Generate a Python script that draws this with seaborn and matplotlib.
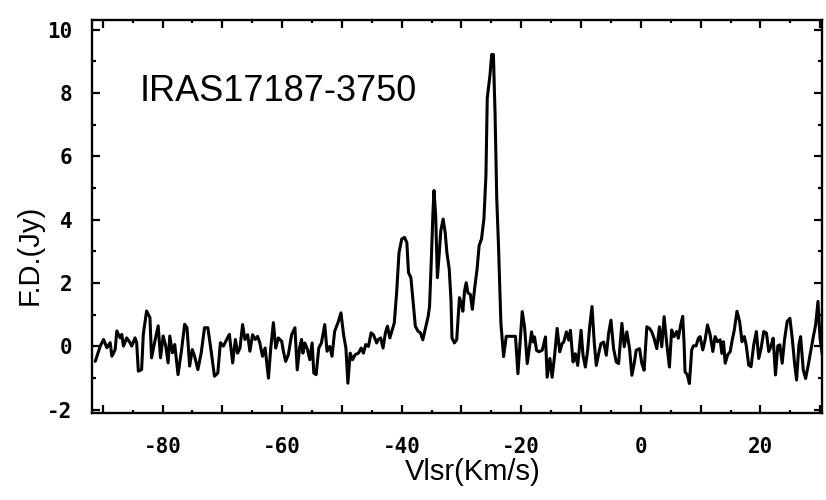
import numpy as np
import pandas as pd
import matplotlib
matplotlib.use("Agg")
import matplotlib.pyplot as plt
from matplotlib.ticker import MultipleLocator, FuncFormatter
import seaborn as sns

# ---- data ----
vlsr = [
    -91.25, -90.42, -89.87, -89.31, -88.76, -88.48, -87.93, -87.65, -87.10, -86.82,
    -86.54, -85.99, -85.44, -85.16, -84.60, -84.33, -84.05, -83.50, -83.22, -82.67,
    -82.11, -81.84, -81.28, -80.73, -80.34, -79.90, -79.46, -79.07, -78.79, -78.35,
    -77.96, -77.41, -76.85, -76.30, -75.91, -75.47, -75.03, -74.64, -74.09, -73.53,
    -72.98, -72.42, -71.87, -71.32, -70.76, -70.32, -69.82, -69.27, -68.82,
    -68.27, -67.82, -67.44, -67.05, -66.61, -66.22, -65.77, -65.39, -64.94, -64.50,
    -64.11, -63.73, -63.28, -62.84, -62.29, -61.90, -61.46, -61.07, -60.63, -60.07,
    -59.79, -59.41, -58.96, -58.41, -57.86, -57.47, -57.08, -56.75, -56.53, -56.20,
    -55.75, -55.37, -54.98, -54.70, -54.31, -53.87, -53.43, -52.87, -52.49, -52.04,
    -51.66, -51.21, -50.66, -50.16, -49.72, -49.33, -49.00, -48.61, -48.22, -47.78,
    -47.23, -46.78, -46.40, -46.01, -45.56, -45.12, -44.73, -44.18,
    -43.97, -43.52, -43.12, -42.72, -42.38, -41.98, -41.58, -41.24, -40.85, -40.45,
    -39.99, -39.54, -39.14, -38.86, -38.46, -38.12, -37.72, -37.27, -36.87, -36.47,
    -36.02, -35.57, -35.34, -35.00, -34.77, -34.60, -34.32, -34.03, -33.75, -33.46,
    -33.07, -32.73, -32.44, -32.05, -31.76, -31.59, -31.19, -30.80, -30.57, -30.34,
    -30.06, -29.77, -29.49, -29.21, -28.92, -28.52, -28.18, -27.79, -27.39, -27.05,
    -26.65, -26.25, -25.91, -25.69, -25.23, -24.95, -24.66, -24.38, -24.10, -23.81,
    -23.41, -22.96, -22.51, -22.11, -21.26, -20.97,
    -20.56, -20.22, -19.84, -19.45, -19.00, -18.61, -18.28, -18.00, -17.78, -17.45,
    -17.06, -16.50, -16.22, -15.95, -15.67, -15.22, -14.84, -14.45, -14.00, -13.56,
    -13.17, -12.89, -12.45, -12.06, -11.78, -11.34, -10.95, -10.56, -10.22, -10.00,
    -9.67, -9.28, -8.89, -8.56, -8.17, -7.78, -7.45, -7.06, -6.67, -6.22,
    -5.78, -5.39, -5.00, -4.56, -4.11, -3.72, -3.17, -2.78, -2.34, -1.89,
    -1.50, -1.11, -0.78, -0.22, 0.17, 0.55, 1.00, 1.44, 1.83, 2.22,
    2.67, 3.11, 3.50, 3.89, 4.33, 4.78,
    5.15, 5.54, 5.99, 6.27, 6.66, 7.00, 7.22, 7.39, 7.78, 8.12,
    8.51, 8.79, 9.24, 9.63, 9.91, 10.36, 10.75, 11.15, 11.59, 12.04,
    12.43, 12.83, 13.27, 13.55, 13.83, 14.11, 14.51, 14.95, 15.23, 15.63,
    16.08, 16.52, 16.92, 17.31, 17.64, 18.04, 18.43, 18.88, 19.32, 19.72,
    20.11, 20.56, 21.01, 21.40, 21.79, 22.13, 22.52, 22.91, 23.25, 23.64,
    24.03, 24.48, 24.93, 25.32, 25.71, 26.05, 26.44, 26.72, 27.17, 27.56,
    27.95, 28.40, 28.85, 29.24, 29.63, 29.97, 30.36, 30.75,
]
flux = [
    -0.47, 0.01, 0.22, -0.04, 0.12, -0.31, -0.10, 0.49, 0.27, 0.38,
    0.01, 0.27, 0.12, 0.01, 0.27, 0.12, -0.78, -0.73, 0.38, 1.12,
    0.91, -0.36, 0.17, 0.65, -0.36, 0.33, 0.01, -0.52, 0.33, -0.20,
    0.06, -0.89, -0.15, 0.70, 0.59, -0.62, -0.10, -0.31, -0.73, -0.20,
    0.59, 0.59, -0.15, -0.94, -0.84, 0.12, 0.01, 0.22, 0.38,
    -0.52, 0.22, -0.21, -0.05, 0.69, 0.22, 0.37, -0.15, 0.37, 0.22,
    0.32, 0.11, -0.31, -0.05, -1.00, -0.05, 0.75, -0.05, 0.27, 0.16,
    -0.15, -0.47, -0.26, 0.37, 0.59, -0.74, -0.05, 0.22, -0.21, 0.11,
    -0.10, -0.42, 0.11, -0.84, -0.89, -0.05, 0.11, 0.69, -0.15, 0.00,
    -0.31, 0.48, 0.75, 1.06, 0.37, -0.05, -1.16, -0.21, -0.42, -0.26,
    -0.21, -0.05, -0.21, 0.06, 0.00, 0.43, 0.37, 0.11,
    0.21, 0.27, -0.05, 0.43, 0.64, 0.27, 0.53, 0.74, 1.69, 2.96,
    3.39, 3.44, 3.28, 2.33, 2.17, 1.48, 0.64, 0.48, 0.43, 0.21,
    0.58, 0.95, 1.27, 2.96, 4.24, 4.92, 4.13, 2.17, 2.86, 3.65,
    4.02, 3.60, 2.96, 2.44, 1.48, 0.27, 0.11, 0.21, 0.90, 1.54,
    1.38, 1.11, 1.75, 2.01, 1.69, 1.64, 1.17, 1.85, 2.44, 3.18,
    3.39, 4.02, 5.40, 7.83, 8.57, 9.21, 9.21, 7.30, 4.66, 3.18,
    0.74, -0.32, 0.32, 0.32, 0.32, 0.32,
    -0.86, 0.09, 1.10, 0.62, -0.54, -0.01, 0.46, 0.14, 0.30, -0.12,
    -0.17, -0.12, 0.09, 0.30, -0.97, -0.38, -0.97, -0.33, 0.57, -0.17,
    0.09, 0.14, 0.46, 0.20, 0.51, -0.49, -0.23, -0.60, 0.09, 0.51,
    -0.28, -0.65, -0.12, 0.62, 1.26, 0.09, -0.60, -0.23, 0.09, 0.14,
    -0.28, 0.41, 0.83, -0.07, -0.49, -0.54, 0.73, -0.01, 0.46, -0.07,
    -0.91, -0.54, -0.12, -0.07, -0.54, -0.75, 0.62, 0.57, 0.46, 0.25,
    -0.07, 0.62, -0.01, 0.94, 0.09, -0.65,
    0.52, 0.31, 0.47, 0.26, 0.68, 0.95, 0.15, -0.80, -0.90, -1.17,
    -0.11, 0.02, 0.02, 0.26, 0.31, -0.11, 0.21, 0.68, 0.37, -0.16,
    0.31, 0.15, 0.21, -0.22, 0.15, -0.53, -0.27, -0.16, 0.15, 0.52,
    1.11, 0.79, 0.15, 0.31, 0.02, -0.59, -0.64, 0.05, 0.47, -0.38,
    -0.06, 0.47, 0.42, -0.16, 0.02, 0.26, -0.90, 0.02, 0.05, -0.53,
    0.21, 0.79, 0.89, 0.26, -0.53, -1.06, 0.05, 0.31, -0.75, -1.01,
    -0.64, -0.16, 0.31, 0.68, 1.42, 0.26, -0.27, -0.11,
]
source_name = "IRAS17187-3750"
x_label = "Vlsr(Km/s)"
y_label = "F.D.(Jy)"
x_ticks = [-80, -60, -40, -20, 0, 20]
y_ticks = [-2, 0, 2, 4, 6, 8, 10]

df = pd.DataFrame({"vlsr": vlsr, "flux": flux})

sns.set_theme(style="ticks")
plt.rcParams["axes.unicode_minus"] = False
plt.rcParams["font.family"] = ["Liberation Sans", "DejaVu Sans"]

fig = plt.figure(figsize=(8.26, 5.00), dpi=100)
ax = fig.add_axes([92 / 826, 1 - 413 / 500, 730 / 826, 393 / 500])

sns.lineplot(data=df, x="vlsr", y="flux", ax=ax, color="black",
             linewidth=2.2, estimator=None, sort=False)

ax.set_xlim(-91.8, 30.3)
ax.set_ylim(-2.1, 10.3)

ax.xaxis.set_major_locator(MultipleLocator(10))
ax.xaxis.set_minor_locator(MultipleLocator(5))
ax.yaxis.set_major_locator(MultipleLocator(2))
ax.yaxis.set_minor_locator(MultipleLocator(1))

def xfmt(v, pos):
    iv = int(round(v))
    return f"{iv}" if iv in x_ticks else ""

def yfmt(v, pos):
    iv = int(round(v))
    return f"{iv}" if iv in y_ticks else ""

ax.xaxis.set_major_formatter(FuncFormatter(xfmt))
ax.yaxis.set_major_formatter(FuncFormatter(yfmt))

ax.tick_params(axis="both", which="both", direction="in",
               top=True, right=True, color="black", width=1.6)
ax.tick_params(axis="x", which="major", length=6, pad=17)
ax.tick_params(axis="x", which="minor", length=2.5)
ax.tick_params(axis="y", which="major", length=6, pad=14)
ax.tick_params(axis="y", which="minor", length=3)

for lab in ax.get_xticklabels() + ax.get_yticklabels():
    lab.set_family(["DejaVu Sans Mono"])
    lab.set_fontweight("bold")
    lab.set_fontsize(15)
    lab.set_color("black")

for sp in ax.spines.values():
    sp.set_linewidth(1.7)
    sp.set_color("black")

ax.set_xlabel("")
ax.set_ylabel("")

ax.text(-83.8, 8.05, source_name, fontsize=26, ha="left", va="center",
        color="black")

fig.text(473 / 826, 1 - 472 / 500, x_label, fontsize=21, ha="center",
         va="center", color="black")
fig.text(30 / 826, 1 - 255 / 500, y_label, fontsize=21, ha="center",
         va="center", rotation=90, color="black")

fig.savefig("out.png", dpi=100, facecolor="white")
